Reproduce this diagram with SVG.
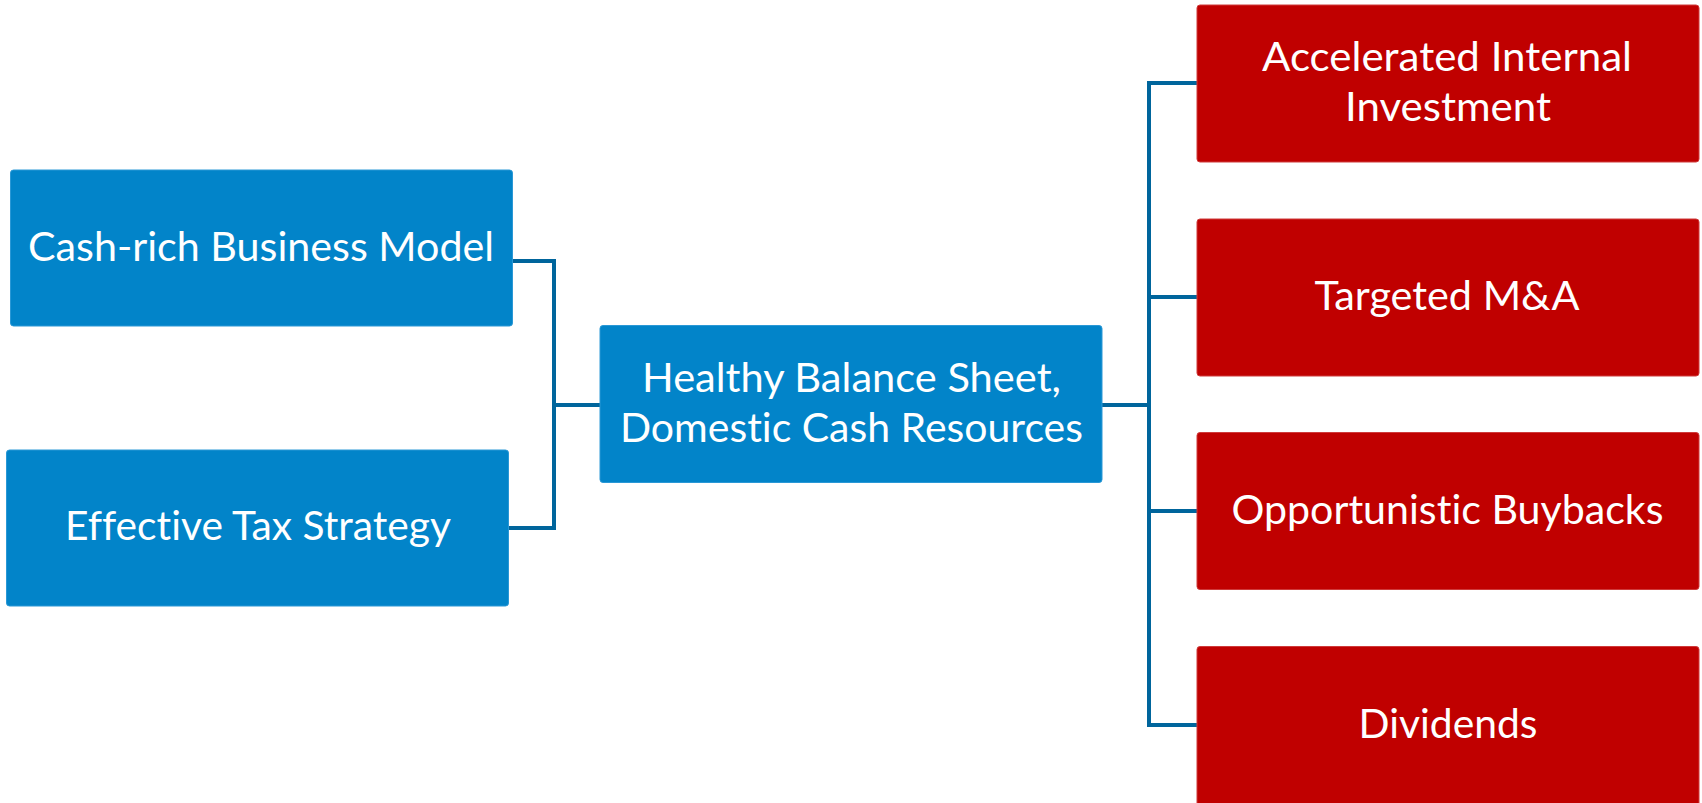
<svg xmlns="http://www.w3.org/2000/svg" width="1702" height="803" viewBox="0 0 1702 803">
<style>
.blue{fill:#0284C9;stroke:#2A98D6;stroke-width:1}
.red{fill:#C00000;stroke:#CF3A3A;stroke-width:1}
.t{font-family:Lato,"Open Sans","Liberation Sans",sans-serif;font-size:41px;fill:#FFFFFF;text-anchor:middle;font-variant-ligatures:none;font-feature-settings:"liga" 0}
.c{fill:none;stroke:#00659C;stroke-width:4;stroke-linejoin:miter;stroke-linecap:butt}
</style>
<rect width="1702" height="803" fill="#FFFFFF"/>
<g id="connectors">
<path class="c" d="M512,261 H554 V528 H508"/>
<path class="c" d="M554,405 H600"/>
<path class="c" d="M1102,405 H1149"/>
<path class="c" d="M1197,83 H1149 V725 H1197"/>
<path class="c" d="M1149,297 H1197"/>
<path class="c" d="M1149,511 H1197"/>
</g>
<g id="cash-rich">
<rect class="blue" x="10.5" y="170" width="502" height="156" rx="3"/>
<text class="t" x="261" y="261" textLength="466" lengthAdjust="spacingAndGlyphs">Cash-rich Business Model</text>
</g>
<g id="tax">
<rect class="blue" x="6.5" y="450" width="502" height="156" rx="3"/>
<text class="t" x="258" y="540" textLength="386" lengthAdjust="spacingAndGlyphs">Effective Tax Strategy</text>
</g>
<g id="balance">
<rect class="blue" x="600" y="325.5" width="502" height="157" rx="3"/>
<text class="t" x="851.5" y="391.5" textLength="419" lengthAdjust="spacingAndGlyphs">Healthy Balance Sheet,</text>
<text class="t" x="851.5" y="441.5" textLength="463" lengthAdjust="spacingAndGlyphs">Domestic Cash Resources</text>
</g>
<g id="investment">
<rect class="red" x="1197" y="5" width="502" height="157" rx="3"/>
<text class="t" x="1447" y="70.5" textLength="370" lengthAdjust="spacingAndGlyphs">Accelerated Internal</text>
<text class="t" x="1448" y="120.5" textLength="206" lengthAdjust="spacingAndGlyphs">Investment</text>
</g>
<g id="ma">
<rect class="red" x="1197" y="219" width="502" height="157" rx="3"/>
<text class="t" x="1447" y="310" textLength="265" lengthAdjust="spacingAndGlyphs">Targeted M&amp;A</text>
</g>
<g id="buybacks">
<rect class="red" x="1197" y="432.5" width="502" height="157" rx="3"/>
<text class="t" x="1447.5" y="524" textLength="432" lengthAdjust="spacingAndGlyphs">Opportunistic Buybacks</text>
</g>
<g id="dividends">
<rect class="red" x="1197" y="646.5" width="502" height="160" rx="3"/>
<text class="t" x="1448" y="737.5" textLength="179" lengthAdjust="spacingAndGlyphs">Dividends</text>
</g>
</svg>
